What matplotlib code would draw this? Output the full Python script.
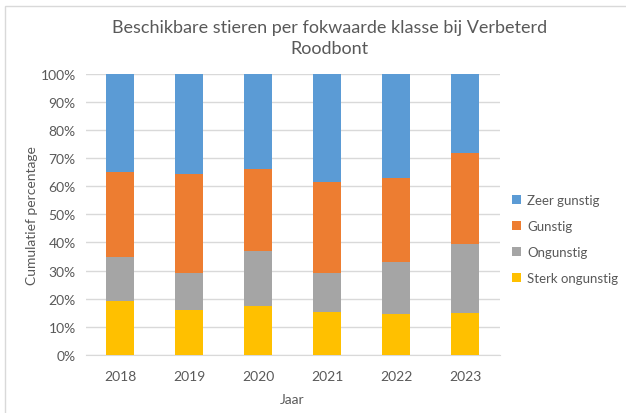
import matplotlib
matplotlib.use("Agg")
import matplotlib.pyplot as plt
from matplotlib.patches import Rectangle
from matplotlib.ticker import PercentFormatter
import numpy as np

plt.rcParams['font.family'] = ['Lato', 'DejaVu Sans']

# Data (percentages per class)
years = ['2018', '2019', '2020', '2021', '2022', '2023']
sterk_ongunstig = [19.2, 16.0, 17.5, 15.2, 14.6, 15.0]
ongunstig = [15.8, 13.0, 19.5, 13.8, 18.6, 24.5]
gunstig = [30.0, 35.5, 29.0, 32.4, 29.7, 32.2]
zeer_gunstig = [100 - a - b - c for a, b, c in zip(sterk_ongunstig, ongunstig, gunstig)]

series = [
    ('Sterk ongunstig', sterk_ongunstig, '#FFC000'),
    ('Ongunstig', ongunstig, '#A5A5A5'),
    ('Gunstig', gunstig, '#ED7D31'),
    ('Zeer gunstig', zeer_gunstig, '#5B9BD5'),
]

text_col = '#595959'
grid_col = '#D9D9D9'

fig = plt.figure(figsize=(6.26, 4.14), dpi=100)
ax = fig.add_axes([0.1366, 0.140, 0.6614, 0.6796])

x = np.arange(len(years))
bottom = np.zeros(len(years))
handles = {}
for name, vals, col in series:
    b = ax.bar(x, vals, width=0.4, bottom=bottom, color=col, label=name, zorder=3)
    handles[name] = b
    bottom += np.array(vals)

ax.set_xlim(-0.5, len(years) - 0.5)
ax.set_ylim(0, 100)
ax.set_yticks(np.arange(0, 101, 10))
ax.yaxis.set_major_formatter(PercentFormatter(decimals=0))
ax.set_xticks(x)
ax.set_xticklabels(years)
ax.grid(axis='y', color=grid_col, linewidth=1, zorder=0)
for s in ['top', 'right', 'left']:
    ax.spines[s].set_visible(False)
ax.spines['bottom'].set_color(grid_col)
ax.tick_params(axis='y', length=0, colors=text_col, labelsize=10, pad=7)
ax.tick_params(axis='x', length=0, colors=text_col, labelsize=10, pad=11)

ax.set_xlabel('Jaar', color=text_col, fontsize=10, labelpad=8)
ax.set_ylabel('Cumulatief percentage', color=text_col, fontsize=10, labelpad=2)

fig.suptitle('Beschikbare stieren per fokwaarde klasse bij Verbeterd\nRoodbont',
             x=0.527, y=0.952, color=text_col, fontsize=13, linespacing=1.38)

order = ['Zeer gunstig', 'Gunstig', 'Ongunstig', 'Sterk ongunstig']
leg = fig.legend([handles[n] for n in order], order, loc='center left',
                 bbox_to_anchor=(0.807, 0.42), frameon=False, fontsize=9.5,
                 handlelength=0.7, handleheight=0.7, handletextpad=0.45,
                 labelspacing=1.05, labelcolor=text_col, borderpad=0)

fig.patches.append(Rectangle((5 / 626, -0.05), 1.1, 1 - 7 / 414 + 0.05,
                             transform=fig.transFigure, fill=False,
                             edgecolor=grid_col, linewidth=1))

fig.savefig('out.png', dpi=100, facecolor='white')
